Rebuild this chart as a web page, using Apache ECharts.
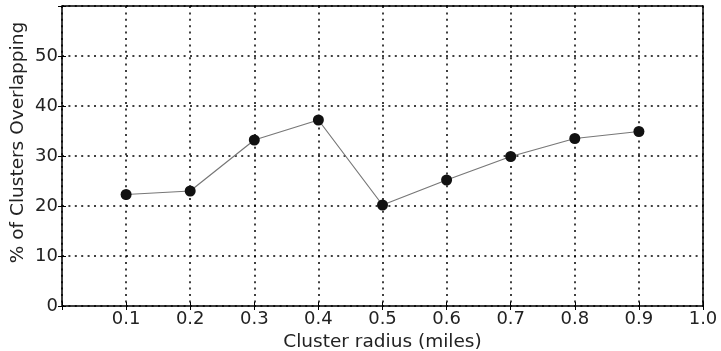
<!DOCTYPE html>
<html><head><meta charset="utf-8">
<script src="https://cdn.jsdelivr.net/npm/echarts@6/dist/echarts.min.js"></script>
<style>html,body{margin:0;padding:0;background:#fff}#c{width:721px;height:351px}</style>
</head><body><div id="c"></div>
<script>
const radius = [0.1, 0.2, 0.3, 0.4, 0.5, 0.6, 0.7, 0.8, 0.9];
const overlap = [22.3, 23.0, 33.2, 37.2, 20.2, 25.2, 29.9, 33.5, 34.9];
const xLabel = 'Cluster radius (miles)';
const yLabel = '% of Clusters Overlapping';

const font = 'DejaVu Sans';
const chart = echarts.init(document.getElementById('c'), null, {renderer: 'canvas'});
const gridLine = {show: true, lineStyle: {color: '#000', width: 1.5, type: [2, 4.4]}};
const hiddenAxisExtras = {axisLabel: {show: false}, splitLine: {show: false}, axisLine: {show: false},
  axisTick: {show: true, inside: true, length: 4, lineStyle: {color: '#000', width: 1}}};
chart.setOption({
  animation: false,
  backgroundColor: '#fff',
  grid: {left: 62, right: 18, top: 6, bottom: 45, show: true, borderColor: '#000', borderWidth: 1.5,
    containLabel: false, outerBoundsMode: 'none'},
  graphic: [{
    type: 'text', x: 18, y: 142.5, rotation: Math.PI / 2,
    style: {text: yLabel, font: '18.5px "DejaVu Sans"', fill: '#222', align: 'center', verticalAlign: 'middle'}
  }],
  xAxis: [{
    type: 'value', min: 0, max: 1, interval: 0.1,
    name: xLabel, nameLocation: 'middle', nameGap: 34,
    nameTextStyle: {fontFamily: font, fontSize: 18.5, color: '#222', verticalAlign: 'middle'},
    axisLine: {show: false},
    axisTick: {show: true, inside: true, length: 4, lineStyle: {color: '#000', width: 1}},
    axisLabel: {fontFamily: font, fontSize: 18, color: '#222', margin: 4,
      formatter: v => (Math.abs(v) < 1e-9 ? '' : v.toFixed(1))},
    splitLine: gridLine
  }, Object.assign({type: 'value', min: 0, max: 1, interval: 0.1, position: 'top'}, hiddenAxisExtras)],
  yAxis: [{
    type: 'value', min: 0, max: 60, interval: 10,
    axisLine: {show: false},
    axisTick: {show: true, inside: true, length: 4, lineStyle: {color: '#000', width: 1}},
    axisLabel: {fontFamily: font, fontSize: 18, color: '#222', margin: 4,
      formatter: v => (v >= 60 ? '' : String(v))},
    splitLine: gridLine
  }, Object.assign({type: 'value', min: 0, max: 60, interval: 10, position: 'right'}, hiddenAxisExtras)],
  series: [{
    type: 'line',
    data: radius.map((r, i) => [r, overlap[i]]),
    symbol: 'circle', symbolSize: 11,
    itemStyle: {color: '#111'},
    lineStyle: {color: '#777', width: 1.2},
    z: 5
  }]
});
</script></body></html>
